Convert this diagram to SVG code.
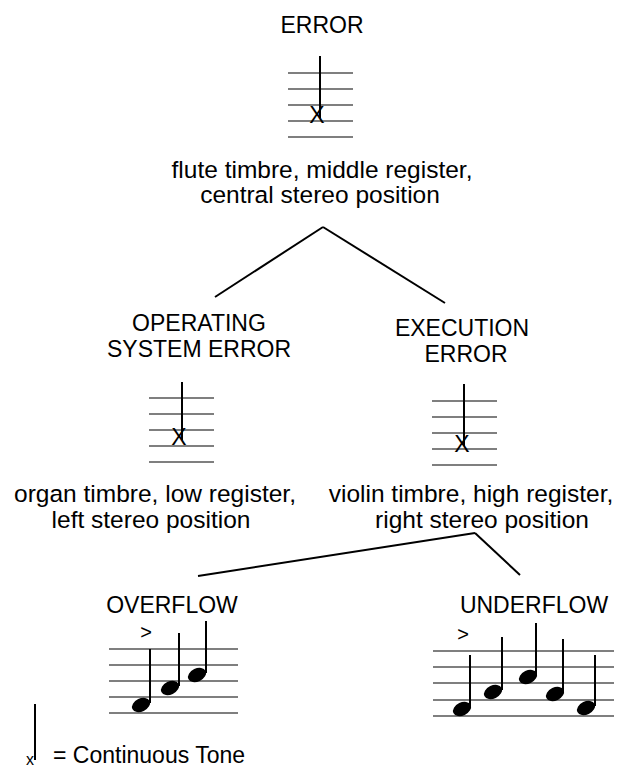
<svg xmlns="http://www.w3.org/2000/svg" width="617" height="767" viewBox="0 0 617 767">
<style>
text{font-family:"Liberation Sans",Arial,sans-serif;font-size:23px;fill:#000}
.c{text-anchor:middle}
.d{font-size:24.5px}
.staff line{stroke:#000;stroke-width:1.2}
.stem{stroke:#000;stroke-width:2}
.conn line{stroke:#000;stroke-width:2}
.head{fill:#000}
</style>
<rect width="617" height="767" fill="#fff"/>
<g id="conn" class="conn">
<line x1="215" y1="297" x2="323" y2="227"/>
<line x1="323" y1="227" x2="445" y2="303"/>
<line x1="198" y1="576" x2="475" y2="533"/>
<line x1="475" y1="533" x2="520" y2="575"/>
</g>
<g id="error">
<text class="c" x="322" y="33">ERROR</text>
<g class="staff"><line x1="288" y1="73" x2="353" y2="73"/><line x1="288" y1="89" x2="353" y2="89"/><line x1="288" y1="105" x2="353" y2="105"/><line x1="288" y1="121" x2="353" y2="121"/><line x1="288" y1="137" x2="353" y2="137"/></g>
<line class="stem" x1="320" y1="56" x2="320" y2="118"/>
<text class="c" x="317" y="123">X</text>
<text class="c d" x="322" y="178">flute timbre, middle register,</text>
<text class="c d" x="320" y="203">central stereo position</text>
</g>
<g id="os-error">
<text class="c" x="199" y="331">OPERATING</text>
<text class="c" x="199" y="357">SYSTEM ERROR</text>
<g class="staff"><line x1="149" y1="398" x2="214" y2="398"/><line x1="149" y1="414" x2="214" y2="414"/><line x1="149" y1="430" x2="214" y2="430"/><line x1="149" y1="446" x2="214" y2="446"/><line x1="149" y1="462" x2="214" y2="462"/></g>
<line class="stem" x1="182" y1="382" x2="182" y2="440"/>
<text class="c" x="179" y="445">X</text>
<text class="c d" x="155" y="502">organ timbre, low register,</text>
<text class="c d" x="151" y="528">left stereo position</text>
</g>
<g id="exec-error">
<text class="c" x="462" y="336">EXECUTION</text>
<text class="c" x="466" y="362">ERROR</text>
<g class="staff"><line x1="432" y1="401" x2="497" y2="401"/><line x1="432" y1="417" x2="497" y2="417"/><line x1="432" y1="433" x2="497" y2="433"/><line x1="432" y1="449" x2="497" y2="449"/><line x1="432" y1="465" x2="497" y2="465"/></g>
<line class="stem" x1="464" y1="384" x2="464" y2="446"/>
<text class="c" x="462" y="452">X</text>
<text class="c d" x="471" y="502">violin timbre, high register,</text>
<text class="c d" x="482" y="528">right stereo position</text>
</g>
<g id="overflow">
<text class="c" x="172" y="613">OVERFLOW</text>
<text class="c" x="146" y="639" style="font-size:20px">&gt;</text>
<g class="staff"><line x1="109" y1="649" x2="238" y2="649"/><line x1="109" y1="665" x2="238" y2="665"/><line x1="109" y1="681" x2="238" y2="681"/><line x1="109" y1="697" x2="238" y2="697"/><line x1="109" y1="713" x2="238" y2="713"/></g>
<ellipse class="head" cx="141" cy="705" rx="9.5" ry="6.5" transform="rotate(-25 141 705)"/>
<line class="stem" x1="150" y1="649" x2="150" y2="703"/>
<ellipse class="head" cx="170" cy="688" rx="9.5" ry="6.5" transform="rotate(-25 170 688)"/>
<line class="stem" x1="179" y1="633" x2="179" y2="686"/>
<ellipse class="head" cx="197" cy="675" rx="9.5" ry="6.5" transform="rotate(-25 197 675)"/>
<line class="stem" x1="206" y1="621" x2="206" y2="673"/>
</g>
<g id="underflow">
<text class="c" x="534" y="613">UNDERFLOW</text>
<text class="c" x="463" y="641" style="font-size:20px">&gt;</text>
<g class="staff"><line x1="433" y1="651" x2="614" y2="651"/><line x1="433" y1="667" x2="614" y2="667"/><line x1="433" y1="683" x2="614" y2="683"/><line x1="433" y1="700" x2="614" y2="700"/><line x1="433" y1="716" x2="614" y2="716"/></g>
<ellipse class="head" cx="462" cy="709" rx="9.5" ry="6.5" transform="rotate(-25 462 709)"/>
<line class="stem" x1="470" y1="655" x2="470" y2="707"/>
<ellipse class="head" cx="493" cy="692" rx="9.5" ry="6.5" transform="rotate(-25 493 692)"/>
<line class="stem" x1="502" y1="637" x2="502" y2="690"/>
<ellipse class="head" cx="528" cy="677" rx="9.5" ry="6.5" transform="rotate(-25 528 677)"/>
<line class="stem" x1="536" y1="623" x2="536" y2="675"/>
<ellipse class="head" cx="555" cy="694" rx="9.5" ry="6.5" transform="rotate(-25 555 694)"/>
<line class="stem" x1="563" y1="639" x2="563" y2="692"/>
<ellipse class="head" cx="586" cy="708" rx="9.5" ry="6.5" transform="rotate(-25 586 708)"/>
<line class="stem" x1="595" y1="655" x2="595" y2="706"/>
</g>
<g id="legend">
<line class="stem" x1="35" y1="704" x2="35" y2="760"/>
<text class="c" x="30" y="765" style="font-size:16px">x</text>
<text x="53" y="763">= Continuous Tone</text>
</g>
</svg>
